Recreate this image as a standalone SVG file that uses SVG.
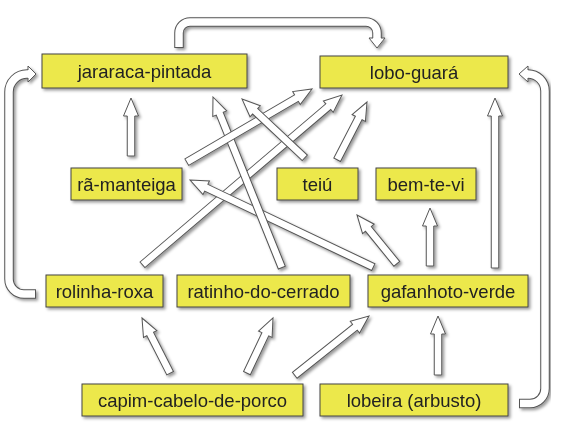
<svg xmlns="http://www.w3.org/2000/svg" width="564" height="436" viewBox="0 0 564 436">
<defs>
<filter id="sh" x="-20%" y="-20%" width="140%" height="140%">
<feDropShadow dx="2" dy="2" stdDeviation="1.4" flood-color="#000" flood-opacity="0.4"/>
</filter>
</defs>
<style>
.box{fill:#ECE84B;stroke:#444;stroke-width:1}
.lbl{font-family:"Liberation Sans",Arial,sans-serif;font-size:18.5px;fill:#222;text-anchor:middle}
.arr{fill:#fff;stroke:#555;stroke-width:1;stroke-linejoin:miter}
.to{fill:none;stroke:#555;stroke-width:9.5}
.ti{fill:none;stroke:#fff;stroke-width:7.5}
</style>
<rect width="564" height="436" fill="#fff"/>
<g id="connectors">
<g filter="url(#sh)">
<path class="to" d="M36,294 H24 A15,15 0 0 1 9,279 V92 A18,18 0 0 1 27,74 H28"/>
<path class="ti" d="M35,294 H24 A15,15 0 0 1 9,279 V92 A18,18 0 0 1 27,74 H28"/>
<path class="arr" d="M28,78 V82 L36,74 L28,66 V70"/>
</g>
<g filter="url(#sh)">
<path class="to" d="M179,48 V33 A11,11 0 0 1 190,22 H366 A11,11 0 0 1 377,33 V38"/>
<path class="ti" d="M179,47 V33 A11,11 0 0 1 190,22 H366 A11,11 0 0 1 377,33 V38"/>
<path class="arr" d="M373,38 H369 L377,48 L385,38 H381"/>
</g>
<g filter="url(#sh)">
<path class="to" d="M519,403.5 H530 A15,15 0 0 0 545,388.5 V91 A17,17 0 0 0 528,74"/>
<path class="ti" d="M520,403.5 H530 A15,15 0 0 0 545,388.5 V91 A17,17 0 0 0 528,74"/>
<path class="arr" d="M528,78 V82 L519,74 L528,66 V70"/>
</g>
<g filter="url(#sh)">
<path class="arr" transform="translate(342,95) rotate(49.6)" d="M0,0 L7.5,18 L3.75,18 L3.75,262 L-3.75,262 L-3.75,18 L-7.5,18 Z"/>
<path class="arr" transform="translate(190,180) rotate(-64.57)" d="M0,0 L7.5,18 L3.75,18 L3.75,203 L-3.75,203 L-3.75,18 L-7.5,18 Z"/>
<path class="arr" transform="translate(213,97) rotate(-21.97)" d="M0,0 L7.5,18 L3.75,18 L3.75,184 L-3.75,184 L-3.75,18 L-7.5,18 Z"/>
<path class="arr" transform="translate(312,89) rotate(59.7)" d="M0,0 L7.5,18 L3.75,18 L3.75,145 L-3.75,145 L-3.75,18 L-7.5,18 Z"/>
<path class="arr" transform="translate(242,99) rotate(-46.9)" d="M0,0 L7.5,18 L3.75,18 L3.75,86 L-3.75,86 L-3.75,18 L-7.5,18 Z"/>
<path class="arr" transform="translate(131,98)" d="M0,0 L7.5,18 L3.75,18 L3.75,58 L-3.75,58 L-3.75,18 L-7.5,18 Z"/>
<path class="arr" transform="translate(367,102) rotate(27.35)" d="M0,0 L7.5,18 L3.75,18 L3.75,65 L-3.75,65 L-3.75,18 L-7.5,18 Z"/>
<path class="arr" transform="translate(357,215) rotate(-39.2)" d="M0,0 L7.5,18 L3.75,18 L3.75,63 L-3.75,63 L-3.75,18 L-7.5,18 Z"/>
<path class="arr" transform="translate(430,208)" d="M0,0 L7.5,18 L3.75,18 L3.75,58 L-3.75,58 L-3.75,18 L-7.5,18 Z"/>
<path class="arr" transform="translate(495,98)" d="M0,0 L7.5,18 L3.75,18 L3.75,170 L-3.75,170 L-3.75,18 L-7.5,18 Z"/>
<path class="arr" transform="translate(142,318) rotate(-27)" d="M0,0 L7.5,18 L3.75,18 L3.75,62 L-3.75,62 L-3.75,18 L-7.5,18 Z"/>
<path class="arr" transform="translate(273,318) rotate(25.3)" d="M0,0 L7.5,18 L3.75,18 L3.75,61 L-3.75,61 L-3.75,18 L-7.5,18 Z"/>
<path class="arr" transform="translate(369,316) rotate(51.4)" d="M0,0 L7.5,18 L3.75,18 L3.75,95 L-3.75,95 L-3.75,18 L-7.5,18 Z"/>
<path class="arr" transform="translate(438,316)" d="M0,0 L7.5,18 L3.75,18 L3.75,59 L-3.75,59 L-3.75,18 L-7.5,18 Z"/>
</g>
</g>
<g id="jararaca-pintada" filter="url(#sh)"><rect class="box" x="42" y="54" width="205" height="34"/><text class="lbl" x="144.5" y="77.5">jararaca-pintada</text></g>
<g id="lobo-guara" filter="url(#sh)"><rect class="box" x="320" y="56" width="188" height="32"/><text class="lbl" x="414" y="78.5">lobo-guará</text></g>
<g id="ra-manteiga" filter="url(#sh)"><rect class="box" x="71" y="168" width="111" height="32"/><text class="lbl" x="126.5" y="190.5">rã-manteiga</text></g>
<g id="teiu" filter="url(#sh)"><rect class="box" x="277" y="168" width="81" height="32"/><text class="lbl" x="317.5" y="190.5">teiú</text></g>
<g id="bem-te-vi" filter="url(#sh)"><rect class="box" x="376" y="168" width="100" height="32"/><text class="lbl" x="426" y="190.5">bem-te-vi</text></g>
<g id="rolinha-roxa" filter="url(#sh)"><rect class="box" x="46" y="275" width="117" height="32"/><text class="lbl" x="104.5" y="297.5">rolinha-roxa</text></g>
<g id="ratinho-do-cerrado" filter="url(#sh)"><rect class="box" x="177" y="275" width="173" height="32"/><text class="lbl" x="263.5" y="297.5">ratinho-do-cerrado</text></g>
<g id="gafanhoto-verde" filter="url(#sh)"><rect class="box" x="368" y="275" width="160" height="32"/><text class="lbl" x="448" y="297.5">gafanhoto-verde</text></g>
<g id="capim-cabelo-de-porco" filter="url(#sh)"><rect class="box" x="82" y="384" width="221" height="32"/><text class="lbl" x="192.5" y="406.5">capim-cabelo-de-porco</text></g>
<g id="lobeira" filter="url(#sh)"><rect class="box" x="320" y="384" width="188" height="32"/><text class="lbl" x="414" y="406.5">lobeira (arbusto)</text></g>
</svg>
